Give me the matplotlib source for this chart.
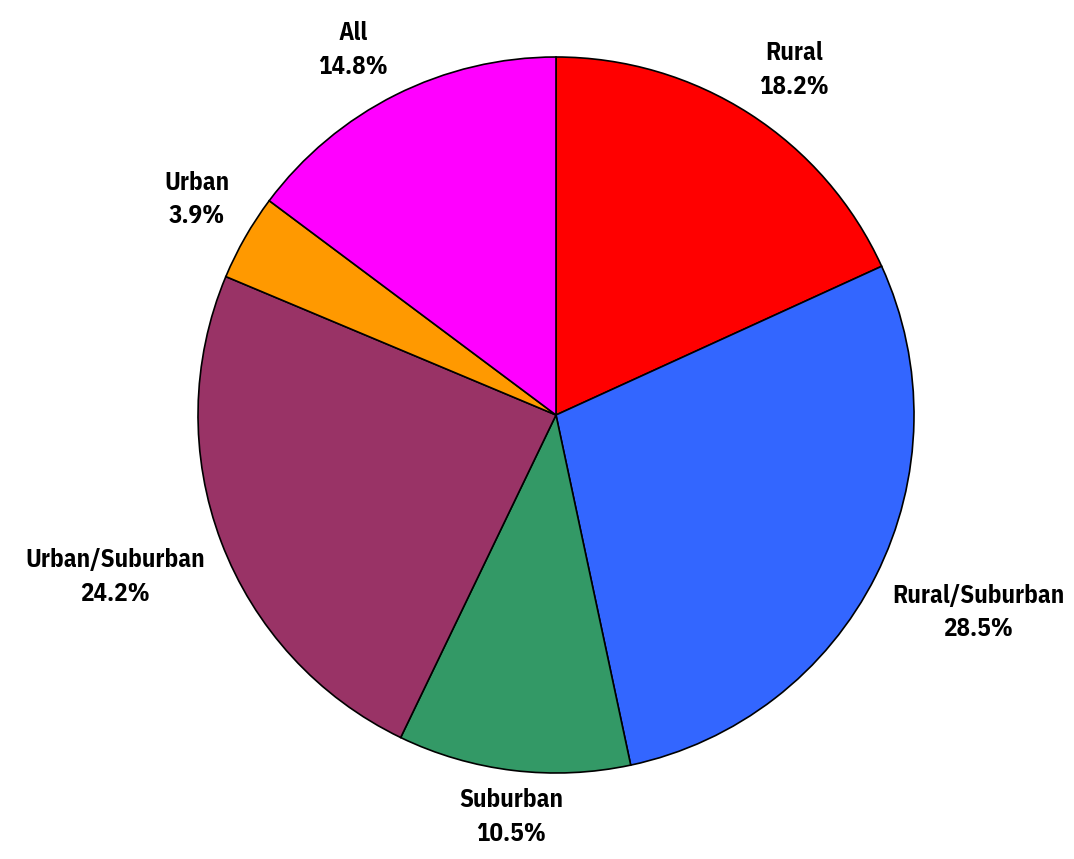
import numpy as np
import matplotlib.pyplot as plt

# Data
categories = ["Rural", "Rural/Suburban", "Suburban", "Urban/Suburban", "Urban", "All"]
shares = [18.2, 28.5, 10.5, 24.2, 3.9, 14.8]
colors = ["#FF0000", "#3366FF", "#339966", "#993366", "#FF9900", "#FF00FF"]


def main() -> None:
    fig = plt.figure(figsize=(10.74, 8.59), dpi=100)
    ax = fig.add_axes([0, 0, 1, 1])

    wedges, _ = ax.pie(
        shares,
        colors=colors,
        startangle=90,
        counterclock=False,
        wedgeprops=dict(edgecolor="black", linewidth=1.2),
    )

    # axis limits so the pie sits where it does in the original
    r_px = 358.0
    ax.set_xlim(-556 / r_px, (1074 - 556) / r_px)
    ax.set_ylim(-(859 - 415) / r_px, 415 / r_px)
    ax.set_aspect("auto")
    ax.axis("off")

    font = ["IBM Plex Sans Condensed", "DejaVu Sans"]
    for w, cat, val in zip(wedges, categories, shares):
        mid = np.deg2rad((w.theta1 + w.theta2) / 2)
        c, s = np.cos(mid), np.sin(mid)
        x, y = 1.05 * c, 1.05 * s
        if abs(c) < 0.25:
            ha = "center"
        else:
            ha = "left" if c > 0 else "right"
        va = "bottom" if s > 0 else "top"
        ax.text(
            x,
            y,
            f"{cat}\n{val:.1f}%",
            ha=ha,
            va=va,
            multialignment="center",
            fontsize=18,
            fontweight="bold",
            family=font,
            linespacing=1.5,
        )

    fig.savefig("out.png", dpi=100)


if __name__ == "__main__":
    main()
